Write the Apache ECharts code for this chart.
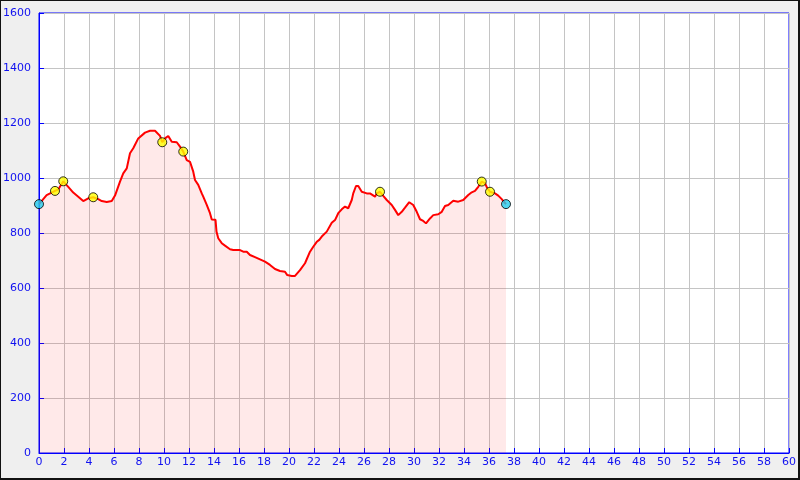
<!DOCTYPE html>
<html>
<head>
<meta charset="utf-8">
<script src="https://cdn.jsdelivr.net/npm/echarts@6/dist/echarts.min.js"></script>
<style>html,body{margin:0;padding:0;background:#efefef;}#c{width:800px;height:480px;}</style>
</head>
<body>
<div id="c"></div>
<script>
// distance (km) and elevation (m) of the profile
const kms = [0,0.61,1.28,1.55,1.94,2.34,2.74,3.14,3.54,3.94,4.34,4.74,5.02,5.42,5.82,6.08,6.48,6.74,7.02,7.28,7.54,7.94,8.48,8.88,9.02,9.28,9.42,9.68,9.86,10.08,10.34,10.62,11.02,11.28,11.54,11.82,12.08,12.34,12.48,12.74,13.02,13.14,13.42,13.68,13.82,14.12,14.2,14.34,14.62,14.88,15.28,15.54,16.08,16.34,16.62,16.88,17.28,17.68,18.08,18.48,18.88,19.28,19.68,19.86,20.22,20.48,20.88,21.28,21.68,21.94,22.22,22.42,22.62,22.74,23.02,23.42,23.68,23.94,24.22,24.48,24.74,25.02,25.14,25.36,25.54,25.82,26.22,26.48,26.62,26.88,27.02,27.28,27.54,27.82,28.22,28.48,28.74,29.02,29.28,29.62,29.94,30.22,30.48,30.74,30.96,31.28,31.54,31.94,32.22,32.48,32.74,33.14,33.54,33.94,34.34,34.62,34.88,35.14,35.42,35.68,35.86,36.08,36.48,36.74,37.02,37.36];
const elevs = [905,938,953,959,988,968,947,932,916,926,930,923,916,913,916,936,987,1017,1035,1090,1108,1144,1165,1172,1175,1172,1175,1153,1130,1144,1153,1132,1130,1114,1096,1065,1059,1023,993,975,944,932,902,872,849,848,805,781,763,754,741,738,738,732,732,720,712,704,696,684,669,662,659,647,644,644,665,690,732,750,768,775,787,789,805,837,847,872,886,896,890,920,944,971,971,950,944,944,938,932,944,950,935,920,902,884,865,877,892,912,902,877,850,844,835,853,865,868,877,898,902,917,914,920,938,948,953,968,987,981,963,950,944,936,923,905];
// waypoint markers
const markerKm   = [0,1.28,1.94,4.34,9.86,11.54,27.28,35.42,36.08,37.36];
const markerElev = [905,953,988,930,1130,1096,950,987,950,905];
const markerKind = ['end','mid','mid','mid','mid','mid','mid','mid','mid','end'];
const xMin = 0, xMax = 60, xStep = 2;
const yMin = 0, yMax = 1600, yStep = 200;

const chart = echarts.init(document.getElementById('c'), null, {renderer:'canvas'});
const blue = '#0000ff';
const lbl = {color: '#1010f0', fontFamily: 'DejaVu Sans', fontSize: 11, formatter: v => String(v)};
chart.setOption({
  animation: false,
  backgroundColor: '#efefef',
  grid: {left: 39, right: 11, top: 13, bottom: 27, containLabel: false, outerBoundsMode: 'none', show: true, backgroundColor: '#ffffff', borderColor: blue, borderWidth: 1},
  xAxis: {
    type: 'value', min: xMin, max: xMax, interval: xStep,
    axisLine: {show: true, lineStyle: {color: blue, width: 1}},
    axisTick: {show: true, inside: true, length: 5, lineStyle: {color: blue}},
    axisLabel: Object.assign({margin: 4}, lbl),
    splitLine: {show: true, lineStyle: {color: '#c4c4c4', width: 1}}
  },
  yAxis: {
    type: 'value', min: yMin, max: yMax, interval: yStep,
    axisLine: {show: true, lineStyle: {color: blue, width: 1}},
    axisTick: {show: true, inside: true, length: 5, lineStyle: {color: blue}},
    axisLabel: Object.assign({margin: 8}, lbl),
    splitLine: {show: true, lineStyle: {color: '#c4c4c4', width: 1}}
  },
  series: [
    {
      type: 'line', data: kms.map((k, i) => [k, elevs[i]]),
      showSymbol: false, symbol: 'none',
      lineStyle: {color: '#ff0000', width: 2},
      areaStyle: {color: 'rgba(255,0,0,0.12)', origin: 'start'},
      z: 2
    },
    {
      type: 'scatter', symbol: 'circle', symbolSize: 9,
      data: markerKm.map((k, i) => ({
        value: [k, markerElev[i]],
        itemStyle: {color: markerKind[i] === 'end' ? '#22ccee' : '#ffff00', borderColor: '#000', borderWidth: 1}
      })),
      z: 3
    }
  ],
  graphic: [
    {type: 'line', shape: {x1: 0, y1: 0.5, x2: 800, y2: 0.5}, style: {stroke: '#111', lineWidth: 1}, silent: true},
    {type: 'line', shape: {x1: 0.5, y1: 0, x2: 0.5, y2: 480}, style: {stroke: '#111', lineWidth: 1}, silent: true},
    {type: 'line', shape: {x1: 0, y1: 479, x2: 800, y2: 479}, style: {stroke: '#111', lineWidth: 2}, silent: true},
    {type: 'line', shape: {x1: 799, y1: 0, x2: 799, y2: 480}, style: {stroke: '#111', lineWidth: 2}, silent: true}
  ]
});
</script>
</body>
</html>
